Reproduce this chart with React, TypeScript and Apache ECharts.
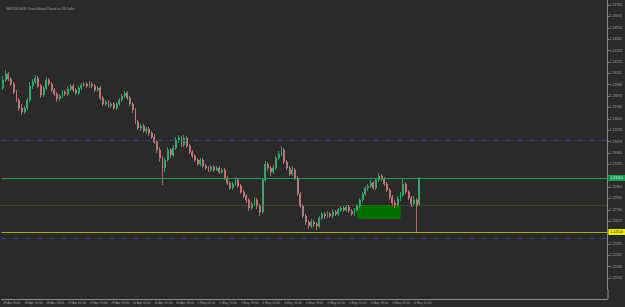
import React, { useEffect, useRef } from "react";
import * as echarts from "echarts";

const TITLE = "GBPUSD,M30: Great Britain Pound vs US Dollar";

const timeLabels = [
  "28 Apr 2020", "28 Apr 10:00", "28 Apr 18:00", "29 Apr 02:00", "29 Apr 10:00",
  "29 Apr 18:00", "30 Apr 02:00", "30 Apr 10:00", "30 Apr 18:00", "1 May 02:00",
  "1 May 10:00", "1 May 18:00", "4 May 02:00", "4 May 10:00", "4 May 18:00",
  "5 May 02:00", "5 May 10:00", "5 May 18:00", "6 May 02:00", "6 May 10:00",
];

// [open, close, low, high]
const candles: number[][] = [
  [1.23954, 1.24034, 1.23934, 1.24074], [1.24034, 1.24094, 1.24014, 1.24134], [1.24094, 1.24044, 1.24024, 1.24114],
  [1.24044, 1.23994, 1.23974, 1.24064], [1.23994, 1.23914, 1.23894, 1.24014], [1.23914, 1.23834, 1.23814, 1.23934],
  [1.23834, 1.23754, 1.23724, 1.23854], [1.23754, 1.23714, 1.23684, 1.23794], [1.23714, 1.23754, 1.23694, 1.23774],
  [1.23754, 1.23834, 1.23734, 1.23854], [1.23834, 1.23974, 1.23814, 1.24014], [1.23974, 1.24014, 1.23944, 1.24044],
  [1.24014, 1.24054, 1.23994, 1.24084], [1.24054, 1.23974, 1.23954, 1.24074], [1.23974, 1.23884, 1.23854, 1.23994],
  [1.23884, 1.23954, 1.23864, 1.23974], [1.23954, 1.24034, 1.23934, 1.24064], [1.24034, 1.23994, 1.23974, 1.24054],
  [1.23994, 1.23934, 1.23914, 1.24014], [1.23934, 1.23894, 1.23874, 1.23954], [1.23894, 1.23844, 1.23814, 1.23914],
  [1.23844, 1.23874, 1.23824, 1.23894], [1.23874, 1.23914, 1.23854, 1.23934], [1.23914, 1.23894, 1.23874, 1.23934],
  [1.23894, 1.23944, 1.23874, 1.23974], [1.23944, 1.23974, 1.23924, 1.23994], [1.23974, 1.23934, 1.23914, 1.23994],
  [1.23934, 1.23904, 1.23884, 1.23954], [1.23904, 1.23954, 1.23884, 1.23974], [1.23954, 1.23984, 1.23934, 1.24004],
  [1.23984, 1.23994, 1.23964, 1.24014], [1.23994, 1.23974, 1.23954, 1.24014], [1.23974, 1.23994, 1.23954, 1.24024],
  [1.23994, 1.23974, 1.23954, 1.24014], [1.23974, 1.23934, 1.23914, 1.23994], [1.23934, 1.23954, 1.23914, 1.23974],
  [1.23954, 1.23854, 1.23834, 1.23974], [1.23854, 1.23794, 1.23774, 1.23874], [1.23794, 1.23814, 1.23774, 1.23834],
  [1.23814, 1.23774, 1.23754, 1.23834], [1.23774, 1.23794, 1.23754, 1.23814], [1.23794, 1.23754, 1.23734, 1.23814],
  [1.23754, 1.23794, 1.23734, 1.23814], [1.23794, 1.23834, 1.23774, 1.23854], [1.23834, 1.23874, 1.23814, 1.23894],
  [1.23874, 1.23904, 1.23854, 1.23924], [1.23904, 1.23854, 1.23834, 1.23924], [1.23854, 1.23794, 1.23774, 1.23874],
  [1.23794, 1.23734, 1.23704, 1.23814], [1.23734, 1.23614, 1.23594, 1.23754], [1.23614, 1.23554, 1.23534, 1.23634],
  [1.23554, 1.23574, 1.23524, 1.23594], [1.23574, 1.23524, 1.23504, 1.23594], [1.23524, 1.23544, 1.23494, 1.23564],
  [1.23544, 1.23504, 1.23474, 1.23564], [1.23504, 1.23464, 1.23444, 1.23524], [1.23464, 1.23414, 1.23394, 1.23494],
  [1.23414, 1.23334, 1.23304, 1.23434], [1.23334, 1.23254, 1.23214, 1.23364], [1.23254, 1.23154, 1.22984, 1.23274],
  [1.23154, 1.23234, 1.23114, 1.23254], [1.23234, 1.23334, 1.23214, 1.23364], [1.23334, 1.23284, 1.23254, 1.23354],
  [1.23284, 1.23354, 1.23264, 1.23384], [1.23354, 1.23434, 1.23334, 1.23464], [1.23434, 1.23454, 1.23404, 1.23484],
  [1.23454, 1.23384, 1.23364, 1.23474], [1.23384, 1.23454, 1.23364, 1.23484], [1.23454, 1.23374, 1.23354, 1.23474],
  [1.23374, 1.23314, 1.23294, 1.23394], [1.23314, 1.23274, 1.23254, 1.23334], [1.23274, 1.23234, 1.23214, 1.23294],
  [1.23234, 1.23194, 1.23174, 1.23254], [1.23194, 1.23234, 1.23174, 1.23254], [1.23234, 1.23174, 1.23154, 1.23254],
  [1.23174, 1.23154, 1.23134, 1.23194], [1.23154, 1.23134, 1.23114, 1.23174], [1.23134, 1.23164, 1.23114, 1.23184],
  [1.23164, 1.23134, 1.23114, 1.23184], [1.23134, 1.23154, 1.23124, 1.23174], [1.23154, 1.23114, 1.23094, 1.23174],
  [1.23114, 1.23134, 1.23094, 1.23154], [1.23134, 1.23054, 1.23034, 1.23154], [1.23054, 1.23004, 1.22984, 1.23074],
  [1.23004, 1.22954, 1.22934, 1.23024], [1.22954, 1.22994, 1.22934, 1.23014], [1.22994, 1.23034, 1.22974, 1.23064],
  [1.23034, 1.22974, 1.22954, 1.23054], [1.22974, 1.22914, 1.22894, 1.22994], [1.22914, 1.22874, 1.22854, 1.22934],
  [1.22874, 1.22834, 1.22804, 1.22894], [1.22834, 1.22754, 1.22724, 1.22854], [1.22754, 1.22794, 1.22734, 1.22814],
  [1.22794, 1.22834, 1.22774, 1.22864], [1.22834, 1.22774, 1.22744, 1.22854], [1.22774, 1.22714, 1.22674, 1.22794],
  [1.22714, 1.23034, 1.22694, 1.23054], [1.23034, 1.23194, 1.23014, 1.23224], [1.23194, 1.23154, 1.23124, 1.23214],
  [1.23154, 1.23114, 1.23074, 1.23174], [1.23114, 1.23154, 1.23094, 1.23184], [1.23154, 1.23254, 1.23134, 1.23274],
  [1.23254, 1.23294, 1.23234, 1.23324], [1.23294, 1.23334, 1.23274, 1.23374], [1.23334, 1.23214, 1.23194, 1.23354],
  [1.23214, 1.23154, 1.23134, 1.23234], [1.23154, 1.23094, 1.23074, 1.23174], [1.23094, 1.23134, 1.23074, 1.23174],
  [1.23134, 1.23054, 1.23034, 1.23154], [1.23054, 1.22894, 1.22874, 1.23074], [1.22894, 1.22774, 1.22754, 1.22914],
  [1.22774, 1.22674, 1.22654, 1.22794], [1.22674, 1.22614, 1.22584, 1.22694], [1.22614, 1.22574, 1.22544, 1.22634],
  [1.22574, 1.22614, 1.22554, 1.22644], [1.22614, 1.22594, 1.22564, 1.22634], [1.22594, 1.22574, 1.22534, 1.22614],
  [1.22574, 1.22654, 1.22554, 1.22674], [1.22654, 1.22694, 1.22634, 1.22714], [1.22694, 1.22674, 1.22644, 1.22714],
  [1.22674, 1.22694, 1.22654, 1.22724], [1.22694, 1.22674, 1.22654, 1.22714], [1.22674, 1.22714, 1.22654, 1.22744],
  [1.22714, 1.22694, 1.22674, 1.22734], [1.22694, 1.22734, 1.22674, 1.22754], [1.22734, 1.22754, 1.22714, 1.22774],
  [1.22754, 1.22734, 1.22714, 1.22774], [1.22734, 1.22764, 1.22714, 1.22784], [1.22764, 1.22724, 1.22704, 1.22784],
  [1.22724, 1.22694, 1.22674, 1.22744], [1.22694, 1.22734, 1.22674, 1.22754], [1.22734, 1.22774, 1.22714, 1.22794],
  [1.22774, 1.22834, 1.22754, 1.22854], [1.22834, 1.22894, 1.22814, 1.22914], [1.22894, 1.22954, 1.22874, 1.22974],
  [1.22954, 1.22974, 1.22924, 1.22994], [1.22974, 1.23004, 1.22954, 1.23034], [1.23004, 1.22954, 1.22934, 1.23024],
  [1.22954, 1.23034, 1.22934, 1.23054], [1.23034, 1.23074, 1.23014, 1.23104], [1.23074, 1.23044, 1.23024, 1.23094],
  [1.23044, 1.22994, 1.22974, 1.23064], [1.22994, 1.22934, 1.22914, 1.23014], [1.22934, 1.22864, 1.22834, 1.22954],
  [1.22864, 1.22804, 1.22774, 1.22884], [1.22804, 1.22784, 1.22754, 1.22834], [1.22784, 1.22844, 1.22764, 1.22874],
  [1.22844, 1.22884, 1.22824, 1.22914], [1.22884, 1.22994, 1.22864, 1.23054], [1.22994, 1.22914, 1.22894, 1.23014],
  [1.22914, 1.22854, 1.22834, 1.22934], [1.22854, 1.22794, 1.22764, 1.22874], [1.22794, 1.22834, 1.22774, 1.22874],
  [1.22834, 1.22774, 1.22504, 1.22854], [1.22794, 1.23054, 1.22774, 1.23064],
];

// horizontal levels
const resistanceLevel = 1.23054;
const entryLevel = 1.22784;
const supportLevel = 1.22514;
const bandLevels = [1.23434, 1.22454];

// zone rectangle: bar indices and price bounds
const zoneBars = [131, 147];
const zonePrices = [1.22784, 1.22644];

// axis scale
const priceMin = 1.2194;
const priceMax = 1.24834;
const priceStep = 0.0011375;
const totalSlots = 224;
const labelEvery = 8;

const FONT = "Liberation Sans";

export default function App() {
  const ref = useRef<HTMLDivElement>(null);
  useEffect(() => {
    if (!ref.current) return;
    const chart = echarts.init(ref.current, null, { renderer: "svg" });
    const slots = Array.from({ length: totalSlots }, (_, i) => String(i));
    chart.setOption({
      animation: false,
      backgroundColor: "#2a2a2a",
      textStyle: { fontFamily: FONT },
      title: {
        text: TITLE,
        left: 1,
        top: 2,
        textStyle: { fontSize: 3.2, color: "#9a9a9a", fontWeight: "normal", fontFamily: FONT },
      },
      grid: { left: 0, right: 17, top: 0, bottom: 17.6 },
      xAxis: {
        type: "category",
        data: slots,
        boundaryGap: true,
        offset: 9.6,
        axisLine: { show: true, lineStyle: { color: "#8a8a8a", width: 1 } },
        axisTick: { show: false },
        splitLine: { show: false },
        axisLabel: {
          interval: labelEvery - 1,
          align: "left",
          margin: 2,
          fontSize: 3.2,
          fontFamily: FONT,
          color: "#a0a0a0",
          formatter: (_v: string, idx: number) => {
            const k = idx / labelEvery;
            return Number.isInteger(k) && k < timeLabels.length ? timeLabels[k] : "";
          },
        },
      },
      yAxis: {
        type: "value",
        position: "right",
        min: priceMin,
        max: priceMax,
        interval: priceStep,
        scale: true,
        splitLine: { show: false },
        axisLine: { show: true, lineStyle: { color: "#8a8a8a", width: 1 } },
        axisTick: { show: true, length: 2, lineStyle: { color: "#8a8a8a" } },
        axisLabel: {
          fontSize: 3.5,
          fontFamily: FONT,
          color: "#a0a0a0",
          margin: 2,
          showMinLabel: false,
          showMaxLabel: false,
          formatter: (v: number) => {
            if (Math.abs(v - resistanceLevel) < priceStep * 0.6) return "";
            if (Math.abs(v - supportLevel) < priceStep * 0.6) return "";
            return v.toFixed(5);
          },
        },
      },
      graphic: [
        {
          type: "line",
          shape: { x1: 608, y1: 289, x2: 608, y2: 299 },
          style: { stroke: "#8a8a8a", lineWidth: 1 },
          silent: true,
        },
      ],
      series: [
        {
          type: "candlestick",
          data: candles,
          barWidth: 1.4,
          itemStyle: {
            color: "#3bb273",
            color0: "#c98080",
            borderColor: "#3bb273",
            borderColor0: "#c98080",
            borderWidth: 0.8,
          },
          markArea: {
            silent: true,
            itemStyle: { color: "#006f00", opacity: 1 },
            data: [
              [
                { xAxis: zoneBars[0], yAxis: zonePrices[0] },
                { xAxis: zoneBars[1], yAxis: zonePrices[1] },
              ],
            ],
          },
          markLine: {
            silent: true,
            symbol: ["none", "none"],
            precision: 5,
            data: [
              {
                yAxis: bandLevels[0],
                lineStyle: { color: "#3e3e82", type: [5, 3, 1, 3], width: 1 },
                label: { show: false },
              },
              {
                yAxis: bandLevels[1],
                lineStyle: { color: "#3e3e82", type: [5, 3, 1, 3], width: 1 },
                label: { show: false },
              },
              {
                yAxis: entryLevel,
                lineStyle: { color: "#6e6e2c", type: [1, 2], width: 1 },
                label: { show: false },
              },
              {
                yAxis: resistanceLevel,
                lineStyle: { color: "#22985c", type: "solid", width: 1 },
                label: {
                  show: true,
                  position: "end",
                  distance: 1,
                  fontSize: 3.5,
                  fontFamily: FONT,
                  color: "#d8f5e0",
                  backgroundColor: "#1f9a55",
                  padding: [1, 2],
                  formatter: () => resistanceLevel.toFixed(5),
                },
              },
              {
                yAxis: supportLevel,
                lineStyle: { color: "#a8a820", type: "solid", width: 1 },
                label: {
                  show: true,
                  position: "end",
                  distance: 1,
                  fontSize: 3.5,
                  fontFamily: FONT,
                  color: "#202000",
                  backgroundColor: "#eeee10",
                  padding: [1, 2],
                  formatter: () => supportLevel.toFixed(5),
                },
              },
            ],
          },
        },
      ],
    });
    return () => chart.dispose();
  }, []);
  return (
    <div
      ref={ref}
      style={{ position: "fixed", left: 0, top: 0, width: 625, height: 307 }}
    />
  );
}
